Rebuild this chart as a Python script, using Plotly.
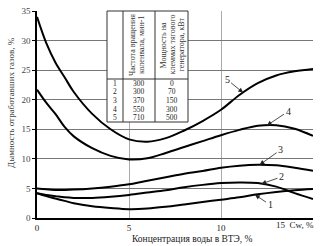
import numpy as np
import plotly.graph_objects as go

# ---- data ----
cw = [0, 0.5, 1, 1.5, 2, 3, 4, 5, 6, 7, 8, 9, 10, 11, 12, 13, 14, 15]
curve1 = [4.2, 3.7, 3.3, 2.9, 2.5, 2.0, 1.7, 1.5, 1.6, 1.9, 2.3, 2.7, 3.1, 3.5, 4.0, 4.4, 4.7, 4.9]
curve2 = [4.2, 3.9, 3.7, 3.5, 3.4, 3.4, 3.6, 3.9, 4.3, 4.7, 5.2, 5.6, 5.9, 6.0, 5.9, 5.3, 4.2, 3.2]
curve3 = [5.0, 4.85, 4.75, 4.75, 4.8, 5.0, 5.3, 5.7, 6.3, 6.9, 7.5, 7.95, 8.5, 8.85, 9.0, 8.9, 8.5, 8.0]
curve4 = [21.7, 19.5, 17.6, 15.4, 13.8, 11.8, 10.5, 9.9, 10.1, 11.0, 12.0, 13.0, 14.0, 14.9, 15.6, 15.7, 15.1, 13.9]
curve5 = [34.0, 29.6, 26.3, 23.8, 21.3, 17.6, 15.0, 13.3, 12.9, 13.5, 14.8, 16.4, 18.3, 20.8, 22.8, 24.1, 24.8, 25.2]
curves = [curve1, curve2, curve3, curve4, curve5]
curve_names = ["1", "2", "3", "4", "5"]

x_ticks = [0, 5, 10]
y_ticks = [0, 5, 10, 15, 20, 25, 30, 35]

table_rows = ["1", "2", "3", "4", "5"]
table_rpm = ["300", "300", "370", "550", "710"]
table_power = ["0", "70", "150", "300", "500"]
table_head_rpm = ["Частота вращения", "коленвала, мин-1"]
table_head_power = ["Мощность на", "клеммах тягового", "генератора, кВт"]

x_title = "Концентрация воды в ВТЭ, %"
y_title = "Дымность отработавших газов, %"
x_last_label = "15  Cw, %"

# label arrow head x positions and text offsets (px)
label_x = [11.85, 12.2, 12.1, 12.5, 11.2]
label_off = [(15, 10), (20, -7), (21, -15), (21, -14), (-16, -13)]

FONT = "Liberation Serif"
W, H = 335, 246
L, R, T, B = 37, 22, 11, 28
PW, PH = W - L - R, H - T - B


def px(xp):
    return (xp - L) / PW


def py(yp):
    return (H - B - yp) / PH


def note(xp, yp, text, size, color="#222", angle=0, xanchor="center", pad=1):
    return dict(x=px(xp), y=py(yp), xref="paper", yref="paper", text=text,
                textangle=angle, showarrow=False, xanchor=xanchor, yanchor="middle",
                borderpad=pad, font=dict(family=FONT, size=size, color=color))


fig = go.Figure()
for c, n in zip(curves, curve_names):
    fig.add_trace(go.Scatter(x=cw, y=c, mode="lines", name=n,
                             line=dict(color="black", width=2, shape="spline", smoothing=1),
                             showlegend=False, hoverinfo="skip"))

annotations = []
# curve labels with arrows
for c, n, lx, (ax, ay) in zip(curves, curve_names, label_x, label_off):
    annotations.append(dict(x=lx, y=float(np.interp(lx, cw, c)), xref="x", yref="y",
                            text=n, showarrow=True, arrowhead=2, arrowsize=1.2,
                            arrowwidth=0.8, arrowcolor="#222", ax=ax, ay=ay,
                            xanchor="center", yanchor="middle",
                            font=dict(family=FONT, size=10, color="#222")))

# x last tick label and axis titles
annotations.append(note(316, 225, x_last_label, 9, xanchor="right"))
annotations.append(note(192, 239, x_title, 9.5))
annotations.append(note(11, 103, y_title, 9, color="#444", angle=-90))

# table
tx0, tx1, tx2, tx3 = 107, 123, 155, 188
ty0, tyh, ty1 = 11, 79, 122
shapes = [dict(type="rect", xref="paper", yref="paper", x0=px(tx0), x1=px(tx3),
               y0=py(ty1), y1=py(ty0), fillcolor="white",
               line=dict(color="#333", width=1), layer="above")]
for xv in (tx1, tx2):
    shapes.append(dict(type="line", xref="paper", yref="paper", x0=px(xv), x1=px(xv),
                       y0=py(ty1), y1=py(ty0), line=dict(color="#333", width=1), layer="above"))
shapes.append(dict(type="line", xref="paper", yref="paper", x0=px(tx0), x1=px(tx3),
                   y0=py(tyh), y1=py(tyh), line=dict(color="#333", width=1), layer="above"))

head_y = (ty0 + tyh) / 2
for xc, t in zip((133, 142), table_head_rpm):
    annotations.append(note(xc, head_y, t, 8, color="#333", angle=-90, pad=0))
for xc, t in zip((163.5, 172.5, 181.5), table_head_power):
    annotations.append(note(xc, head_y, t, 8, color="#333", angle=-90, pad=0))
rh = (ty1 - tyh) / len(table_rows)
for i, (a, b, c) in enumerate(zip(table_rows, table_rpm, table_power)):
    yc = tyh + rh * (i + 0.5)
    for xc, t in (((tx0 + tx1) / 2, a), ((tx1 + tx2) / 2, b), ((tx2 + tx3) / 2, c)):
        annotations.append(note(xc, yc, t, 7.5, pad=0))

fig.update_layout(
    width=W, height=H, margin=dict(l=L, r=R, t=T, b=B, autoexpand=False),
    plot_bgcolor="white", paper_bgcolor="white",
    xaxis=dict(range=[0, 15], tickvals=x_ticks, showgrid=True, gridcolor="#aaa",
               gridwidth=1, showline=True, linecolor="black", linewidth=1.5,
               zeroline=False, ticks="", automargin=False,
               tickfont=dict(family=FONT, size=9, color="#222")),
    yaxis=dict(range=[0, 35], tickvals=y_ticks, showgrid=True, gridcolor="#777",
               gridwidth=1, showline=True, linecolor="black", linewidth=1.5,
               zeroline=False, ticks="outside", ticklen=3, tickcolor="black",
               automargin=False,
               tickfont=dict(family=FONT, size=9, color="#444")),
    annotations=annotations, shapes=shapes,
)

fig.write_html("out.html", config={"displayModeBar": False},
               post_script="document.body.style.margin='0';document.body.style.padding='0';")
